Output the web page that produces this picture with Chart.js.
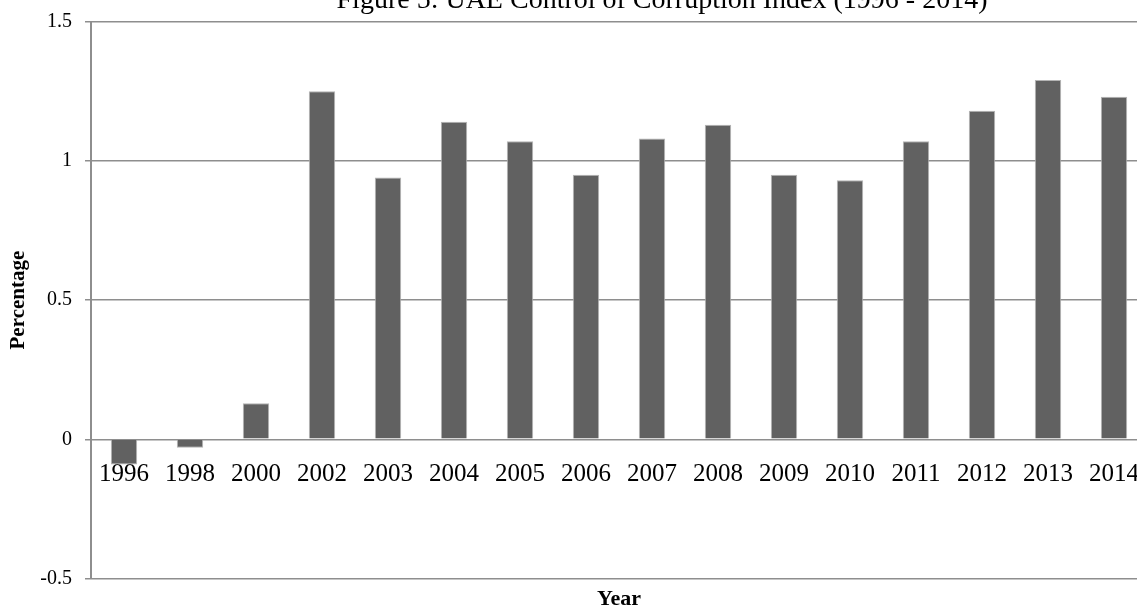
<!DOCTYPE html>
<html>
<head>
<meta charset="utf-8">
<script src="https://cdn.jsdelivr.net/npm/chart.js@4/dist/chart.umd.min.js"></script>
<style>
	html, body { margin: 0; padding: 0; background: #ffffff; overflow: hidden; }
	#wrap { position: relative; width: 1137px; height: 608px; overflow: hidden; }
	#corruptionChart { position: absolute; left: 0; top: -40px; }
</style>
</head>
<body>
<div id="wrap">
	<canvas id="corruptionChart" width="1324" height="660"></canvas>
</div>
<script>
var _years = ['1996', '1998', '2000', '2002', '2003', '2004', '2005', '2006',
	'2007', '2008', '2009', '2010', '2011', '2012', '2013', '2014'];
var _indexValues = [-0.09, -0.03, 0.13, 1.25, 0.94, 1.14, 1.07, 0.95,
	1.08, 1.13, 0.95, 0.93, 1.07, 1.18, 1.29, 1.23];
var _yTicks = [-0.5, 0, 0.5, 1, 1.5];

var _serif = "'Liberation Serif', 'Times New Roman', serif";
var _gridColor = '#8e8e8e';

var _chart;

function getChartData() {
	var data = {
		labels: _years,
		datasets: [
			{
				label: 'Control of Corruption',
				data: _indexValues,
				yAxisID: 'y',
				backgroundColor: '#616161',
				borderColor: '#b4b4b4',
				borderWidth: 1,
				barPercentage: 0.4,
				categoryPercentage: 1.0
			}
		]
	};
	return data;
}

function getChartOption() {
	var options = {
		type: 'bar',
		data: getChartData(),
		options: {
			responsive: false,
			animation: false,
			devicePixelRatio: 1,
			layout: {
				padding: 0
			},
			plugins: {
				legend: { display: false },
				tooltip: { enabled: false },
				title: {
					display: true,
					text: 'Figure 5: UAE Control of Corruption Index (1996 - 2014)',
					color: '#000000',
					padding: { top: 24, bottom: 4 },
					font: { family: _serif, size: 28, weight: 'normal', lineHeight: 1.2 }
				},
				subtitle: {
					display: true,
					position: 'bottom',
					fullSize: false,
					text: 'Year',
					color: '#000000',
					padding: { top: 8, bottom: 7 },
					font: { family: _serif, size: 22, weight: 'bold', lineHeight: 1.2 }
				}
			},
			scales: {
				x: {
					position: { y: 0 },
					offset: true,
					grid: { display: false },
					border: { display: false },
					ticks: {
						color: '#000000',
						padding: 12,
						maxRotation: 0,
						autoSkip: false,
						font: { family: _serif, size: 25 }
					}
				},
				y: {
					min: -0.5,
					max: 1.5,
					afterBuildTicks: function(scale) {
						scale.ticks = _yTicks.map(function(v) { return { value: v }; });
					},
					afterFit: function(scale) {
						scale.width = 91;
					},
					grid: {
						color: _gridColor,
						lineWidth: 1.5,
						drawTicks: true,
						tickLength: 6
					},
					border: { display: true, color: _gridColor, width: 2 },
					ticks: {
						color: '#000000',
						padding: 13,
						font: { family: _serif, size: 20 },
						callback: function(value) { return String(value); }
					},
					title: {
						display: true,
						text: 'Percentage',
						color: '#000000',
						padding: { top: 6, bottom: 0 },
						font: { family: _serif, size: 21, weight: 'bold', lineHeight: 1.2 }
					}
				},
				// empty right axis, only keeps the room that is cut off past the window edge
				yRight: {
					position: 'right',
					display: true,
					grid: { display: false },
					border: { display: false },
					ticks: { display: false },
					afterFit: function(scale) {
						scale.width = 177;
					}
				}
			}
		}
	};
	return options;
}

function renderChart() {
	var ctx = document.getElementById('corruptionChart');
	if (Chart.getChart('corruptionChart')) {
		_chart.destroy();
	}
	_chart = new Chart(ctx, getChartOption());
}

renderChart();
</script>
</body>
</html>
